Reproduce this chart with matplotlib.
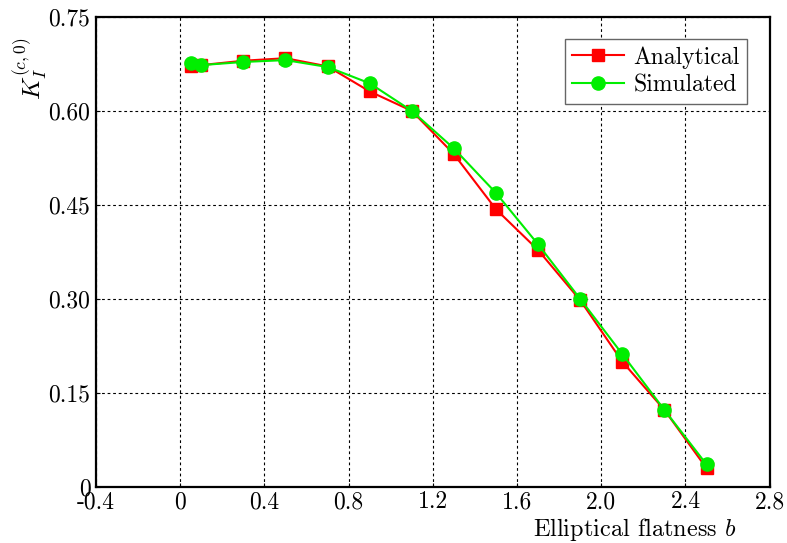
import matplotlib
matplotlib.use("Agg")
import matplotlib.pyplot as plt

plt.rcParams['font.family'] = 'serif'
plt.rcParams['font.serif'] = ['cmr10', 'DejaVu Serif']
plt.rcParams['mathtext.fontset'] = 'cm'
plt.rcParams['axes.formatter.use_mathtext'] = True

# data
b_vals = [0.05, 0.1, 0.3, 0.5, 0.7, 0.9, 1.1, 1.3, 1.5, 1.7, 1.9, 2.1, 2.3, 2.5]
analytical = [0.671, 0.673, 0.680, 0.684, 0.671, 0.631, 0.600, 0.531,
              0.443, 0.378, 0.298, 0.200, 0.123, 0.030]
simulated = [0.676, 0.673, 0.678, 0.681, 0.670, 0.644, 0.600, 0.540,
             0.469, 0.387, 0.300, 0.212, 0.123, 0.036]

xticks = [-0.4, 0, 0.4, 0.8, 1.2, 1.6, 2.0, 2.4, 2.8]
xtick_labels = ['-0.4', '0', '0.4', '0.8', '1.2', '1.6', '2.0', '2.4', '2.8']
yticks = [0, 0.15, 0.30, 0.45, 0.60, 0.75]
ytick_labels = ['0', '0.15', '0.30', '0.45', '0.60', '0.75']

fig = plt.figure(figsize=(7.87, 5.43), dpi=100)
ax = fig.add_axes([0.122, 0.103, 0.856, 0.866])

ax.plot(b_vals, analytical, color='#ff0000', marker='s', markersize=8.5,
        linewidth=1.5, label='Analytical')
ax.plot(b_vals, simulated, color='#00ee00', marker='o', markersize=9.5,
        linewidth=1.5, label='Simulated')

ax.set_xlim(-0.4, 2.8)
ax.set_ylim(0, 0.75)
ax.set_xticks(xticks)
ax.set_xticklabels(xtick_labels)
ax.set_yticks(yticks)
ax.set_yticklabels(ytick_labels)
ax.tick_params(labelsize=17, direction='in', length=3, width=0.8)
ax.tick_params(axis='x', pad=3)
ax.tick_params(axis='y', pad=4)

ax.grid(True, color='black', linestyle=(0, (2.5, 2.5)), linewidth=0.8)
for s in ax.spines.values():
    s.set_linewidth(1.6)

ax.set_xlabel('Elliptical flatness $b$', fontsize=17.5)
ax.xaxis.set_label_coords(0.80, -0.062)
ax.set_ylabel(r'$K_I^{(c,0)}$', fontsize=18)
ax.yaxis.set_label_coords(-0.068, 0.89)

leg = ax.legend(loc='upper right', bbox_to_anchor=(0.966, 0.953), fontsize=17,
                fancybox=False, framealpha=1, edgecolor='#666666',
                handlelength=2.2, borderpad=0.3, labelspacing=0.25,
                handletextpad=0.4, borderaxespad=0)
leg.get_frame().set_linewidth(1.0)

fig.savefig('out.png', dpi=100)
